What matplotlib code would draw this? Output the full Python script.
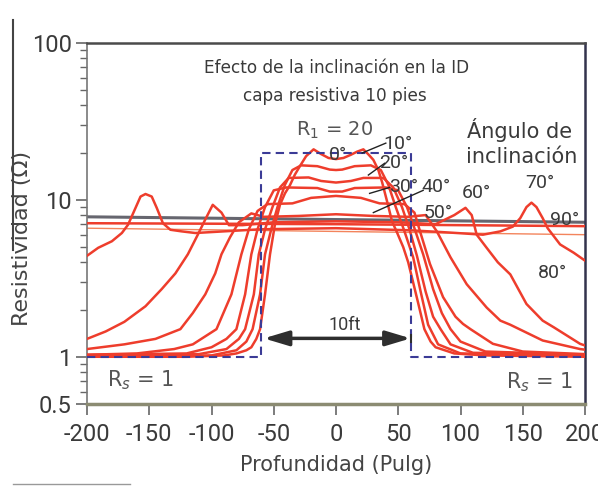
import matplotlib.pyplot as plt
from matplotlib.lines import Line2D
from matplotlib.ticker import LogLocator, NullFormatter

plt.rcParams['font.family'] = ['DejaVu Sans']
digits = ['Roboto', 'DejaVu Sans']

# bed geometry: 10 ft resistive layer, R1 = 20 between shoulders Rs = 1
bed_top, bed_base = -60, 60
r_bed, r_shoulder = 20, 1

# apparent resistivity vs depth (in) for each dip angle
x_0 = [-200, -120, -90, -80, -72, -68, -64, -61, -57, -53, -49, -45, -41, -37, -33, -29, -24, -18,
       -12, -6, 0, 6, 12, 17, 22, 26, 30, 34, 37, 41, 45, 49, 54, 58, 61, 66, 71, 76, 80, 95, 120, 200]
r_0 = [1.0, 1.0, 1.02, 1.05, 1.1, 1.15, 1.3, 1.5, 2.5, 4.5, 7.0, 9.3, 11.0, 12.4, 14.5, 16.4, 19.0, 21.0,
       19.6, 18.5, 18.2, 18.5, 19.4, 20.3, 21.0, 19.5, 18.0, 15.5, 13.0, 9.8, 7.3, 6.2, 5.0, 4.0, 3.2, 2.2,
       1.5, 1.25, 1.15, 1.05, 1.02, 1.0]

x_10 = [-200, -100, -80, -72, -67, -61, -57, -52, -47, -41, -35, -28, -15, -5, 0, 5, 15, 28, 36, 42,
        48, 55, 62, 68, 74, 82, 100, 200]
r_10 = [1.0, 1.02, 1.1, 1.25, 1.5, 2.5, 4.5, 6.5, 9.0, 12.5, 15.5, 16.6, 16.4, 15.6, 15.5, 15.6, 16.4,
        16.6, 15.5, 12.5, 9.0, 6.3, 4.3, 2.6, 1.6, 1.2, 1.05, 1.02]

x_20 = [-200, -110, -88, -78, -73, -66, -62, -57, -51, -45, -38, -22, -12, 0, 12, 22, 38, 46, 53, 59,
        65, 72, 78, 84, 92, 110, 200]
r_20 = [1.02, 1.04, 1.12, 1.3, 1.5, 2.5, 4.5, 6.5, 9.0, 12.0, 13.8, 13.9, 13.2, 12.9, 13.2, 13.8, 13.8,
        12.0, 9.0, 6.5, 4.4, 2.6, 1.8, 1.5, 1.2, 1.06, 1.03]

x_30 = [-200, -120, -100, -88, -80, -73, -68, -63, -57, -50, -40, -15, -5, 5, 15, 40, 50, 57, 63, 70,
        78, 85, 92, 100, 120, 200]
r_30 = [1.03, 1.05, 1.15, 1.3, 1.5, 2.5, 4.5, 6.5, 9.0, 11.5, 12.0, 11.9, 11.3, 11.3, 11.9, 12.0, 11.5,
        9.0, 6.6, 4.5, 2.7, 1.9, 1.5, 1.25, 1.08, 1.03]

x_40 = [-200, -160, -130, -115, -96, -84, -76, -70, -63, -55, -35, -20, 0, 20, 35, 55, 63, 67.5, 75.5,
        86, 96, 102, 108, 126, 150, 200]
r_40 = [1.03, 1.05, 1.12, 1.2, 1.5, 2.5, 4.5, 6.5, 8.5, 9.4, 9.5, 10.3, 10.6, 10.3, 9.5, 9.4, 8.3, 6.3,
        3.9, 2.4, 1.8, 1.62, 1.5, 1.21, 1.08, 1.04]

x_50 = [-200, -170, -145, -125, -115, -105, -97, -92, -85, -78, -68, -58, -30, 0, 30, 58, 72, 81, 92,
        105, 121, 132, 140, 166, 196, 200]
r_50 = [1.12, 1.2, 1.3, 1.5, 1.9, 2.5, 3.4, 4.5, 5.8, 7.2, 8.2, 7.8, 7.9, 8.1, 7.9, 7.8, 8.0, 6.3, 4.3,
        2.9, 2.06, 1.7, 1.6, 1.27, 1.12, 1.11]

x_60 = [-200, -185, -170, -153, -140, -129, -119, -111, -105, -99, -92, -86, -75, -50, 0, 50, 80, 95,
        104, 109, 113, 121, 130, 140, 153, 166, 175, 196, 200]
r_60 = [1.3, 1.45, 1.67, 2.1, 2.7, 3.4, 4.5, 6.0, 7.5, 9.3, 8.3, 6.9, 6.9, 7.2, 7.3, 7.2, 7.0, 8.0, 8.9,
        8.0, 6.0, 4.95, 4.0, 3.35, 2.17, 1.7, 1.54, 1.21, 1.18]

x_70 = [-200, -191, -180, -172, -167, -161, -157, -153, -148, -144, -139, -133, -124, -113, -90, -60,
        0, 60, 90, 118, 132, 142, 148, 153, 157, 161, 166, 170, 180, 191, 200]
r_70 = [4.4, 4.95, 5.45, 6.15, 6.95, 8.9, 10.5, 10.9, 10.5, 8.9, 7.1, 6.45, 6.3, 6.15, 6.3, 6.5, 6.6,
        6.4, 6.2, 6.0, 6.3, 6.75, 7.65, 9.0, 9.6, 9.0, 7.65, 6.6, 5.2, 4.6, 4.1]

x_80 = [-200, -100, 0, 100, 200]
r_80 = [7.1, 7.05, 7.0, 6.9, 6.8]

x_90 = [-200, 200]
r_90 = [7.8, 7.2]

x_base = [-200, 200]
r_base = [6.6, 6.0]

curves = [(x_0, r_0), (x_10, r_10), (x_20, r_20), (x_30, r_30), (x_40, r_40),
          (x_50, r_50), (x_60, r_60), (x_70, r_70), (x_80, r_80)]

# angle labels (text, depth, resistivity)
angle_labels = [('0°', 2, 19.3), ('10°', 50, 22.6), ('20°', 46, 17.1), ('30°', 54, 12.0),
                ('40°', 80, 12.0), ('50°', 82, 8.3), ('60°', 113, 11.0), ('70°', 164, 12.8),
                ('90°', 184, 7.4), ('80°', 174, 3.4)]
# leader lines from labels to curves
leaders = [((40, 23.0), (21, 19.9)), ((39, 17.1), (26, 14.4)),
           ((43, 12.0), (27, 11.0)), ((70, 11.5), (30, 8.3))]

xticks = [-200, -150, -100, -50, 0, 50, 100, 150, 200]
xtick_labels = ['-200', '-150', '-100', '-50', '0', '50', '100', '150', '200']
yticks = [0.5, 1, 10, 100]
ytick_labels = ['0.5', '1', '10', '100']

red = '#ee3d2c'
ink = '#3a3a3a'

fig = plt.figure(figsize=(5.98, 4.87), dpi=100)
ax = fig.add_axes([87 / 598, 83 / 487, 498 / 598, 361 / 487])
ax.set_yscale('log')
ax.set_xlim(-200, 200)
ax.set_ylim(0.5, 100)

# model bed as dashed step
ax.plot([-200, bed_top, bed_top, bed_base, bed_base, 200],
        [r_shoulder, r_shoulder, r_bed, r_bed, r_shoulder, r_shoulder],
        color='#3b3b96', lw=1.5, dashes=(4, 2.5), zorder=4)

ax.plot(x_90, r_90, color='#66666f', lw=2.2, zorder=2)
ax.plot(x_base, r_base, color='#f3845c', lw=1.0, zorder=2)
for xs, rs in curves:
    ax.plot(xs, rs, color=red, lw=1.8, zorder=3)

# bed thickness arrow
ax.annotate('', xy=(bed_top + 2, 1.31), xytext=(bed_base, 1.31),
            arrowprops=dict(arrowstyle='<|-|>,head_length=1.5,head_width=0.45',
                            lw=2.5, color='#2e2e2e', shrinkA=0, shrinkB=0), zorder=5)
ax.plot([bed_base, bed_base], [1.24, 1.38], color='#2e2e2e', lw=1.5, zorder=5)
ax.text(7, 1.6, '10ft', fontsize=13, color=ink, ha='center', va='center', family=digits)

for txt, xv, rv in angle_labels:
    ax.text(xv, rv, txt, fontsize=14, color=ink, ha='center', va='center', zorder=6,
            family=digits)
for (x1, r1), (x2, r2) in leaders:
    ax.plot([x1, x2], [r1, r2], color='#222222', lw=1.0, zorder=6)

ax.text(0.502, 0.931, 'Efecto de la inclinación en la ID', transform=ax.transAxes,
        fontsize=12.2, color=ink, ha='center', va='center')
ax.text(0.498, 0.853, 'capa resistiva 10 pies', transform=ax.transAxes,
        fontsize=12.2, color=ink, ha='center', va='center')
ax.text(-1, 27.8, 'R$_1$ = 20', fontsize=14, color='#555555', ha='center', va='center')
ax.text(0.869, 0.759, 'Ángulo de', transform=ax.transAxes, fontsize=15, color=ink,
        ha='center', va='center')
ax.text(0.873, 0.684, 'inclinación', transform=ax.transAxes, fontsize=15, color=ink,
        ha='center', va='center')
ax.text(0.107, 0.065, 'R$_s$ = 1', transform=ax.transAxes, fontsize=15, color='#555555',
        ha='center', va='center')
ax.text(0.908, 0.060, 'R$_s$ = 1', transform=ax.transAxes, fontsize=15, color='#555555',
        ha='center', va='center')

ax.set_xticks(xticks)
ax.set_xticklabels(xtick_labels)
ax.set_yticks(yticks)
ax.set_yticklabels(ytick_labels)
ax.yaxis.set_minor_locator(LogLocator(base=10, subs=range(2, 10)))
ax.yaxis.set_minor_formatter(NullFormatter())
ax.tick_params(axis='both', which='major', direction='out', length=8, width=1.2,
               labelsize=17, labelcolor=ink, color='#666666', labelfontfamily='Roboto')
ax.tick_params(axis='y', which='minor', direction='out', length=5, width=1, color='#666666')
ax.tick_params(axis='x', pad=6)
ax.tick_params(axis='y', pad=3)

ax.spines['top'].set_color('#4a4a4a')
ax.spines['top'].set_linewidth(1.8)
ax.spines['right'].set_color('#33334d')
ax.spines['right'].set_linewidth(1.8)
ax.spines['left'].set_color('#777777')
ax.spines['left'].set_linewidth(1.2)
ax.spines['bottom'].set_color('#8b8b72')
ax.spines['bottom'].set_linewidth(2.5)

ax.set_xlabel('Profundidad (Pulg)', fontsize=15, color='#444444', labelpad=6)
ax.set_ylabel('Resistividad (Ω)', fontsize=16, color='#444444', labelpad=4)
ax.yaxis.set_label_coords(-0.11, 0.46)

# page edge marks
fig.add_artist(Line2D([13 / 598, 13 / 598], [1 - 20 / 487, 1 - 250 / 487], color='#444444', lw=1.5))
fig.add_artist(Line2D([13 / 598, 130 / 598], [1 - 484 / 487, 1 - 484 / 487], color='#999999', lw=1))

fig.savefig('out.png', dpi=100)
